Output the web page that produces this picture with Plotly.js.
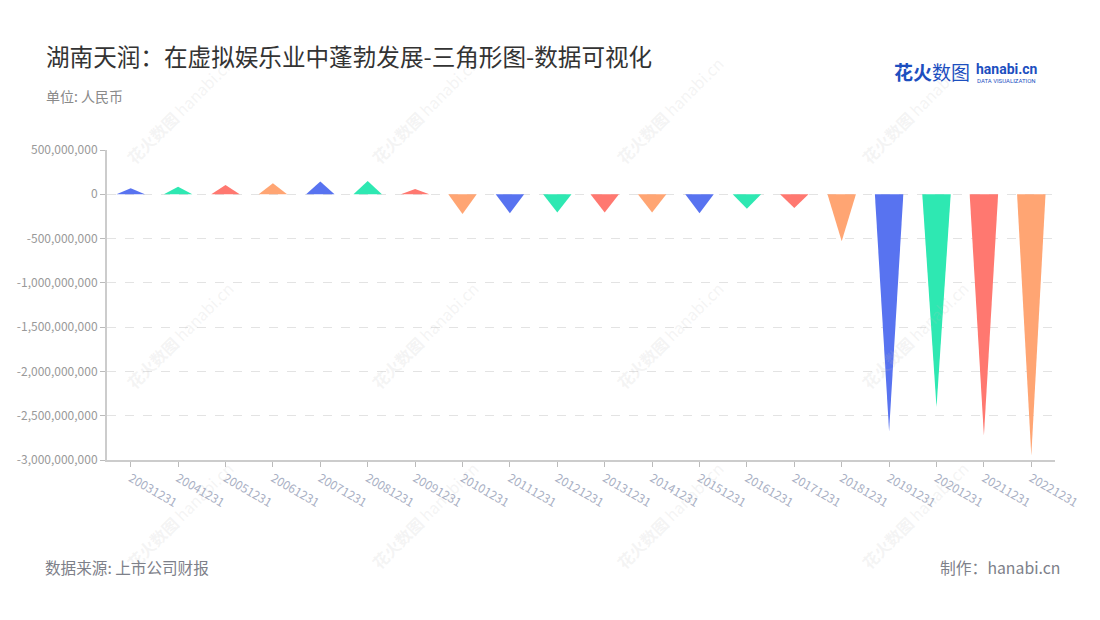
<!DOCTYPE html>
<html>
<head>
<meta charset="utf-8">
<script src="https://cdn.plot.ly/plotly-3.0.1.min.js"></script>
<style>html,body{margin:0;padding:0;background:#fff;}#chart{width:1100px;height:620px;}</style>
</head>
<body>
<div id="chart"></div>
<script>
const categories = ["20031231","20041231","20051231","20061231","20071231","20081231","20091231","20101231","20111231","20121231","20131231","20141231","20151231","20161231","20171231","20181231","20191231","20201231","20211231","20221231"];
const netProfit = [68e6, 86e6, 105e6, 124e6, 143e6, 150e6, 60e6, -222e6, -214e6, -207e6, -207e6, -207e6, -214e6, -162e6, -154e6, -530e6, -2675e6, -2404e6, -2725e6, -2951e6];
const palette = ["#5873F0", "#2EE8B2", "#FF7870", "#FFA573"];
const yTickVals = [500e6, 0, -500e6, -1000e6, -1500e6, -2000e6, -2500e6, -3000e6];

const font = "'Noto Sans CJK SC', 'Noto Sans', sans-serif";
const halfW = 0.3;
const traces = categories.map((c, i) => ({
  type: "scatter",
  mode: "lines",
  x: [i - halfW, i, i + halfW, i - halfW],
  y: [0, netProfit[i], 0, 0],
  fill: "toself",
  fillcolor: palette[i % 4],
  line: {width: 0, color: palette[i % 4]},
  hoverinfo: "skip",
  showlegend: false
}));

const L = 107, R = 1055, T = 150, B = 460;
const px = x => (x - L) / (R - L);
const py = y => (B - y) / (B - T);

const annotations = [];
// faint watermarks (drawn first, behind other texts)
const wmX = [180, 425, 670, 915];
const wmY = [110, 335, 515];
wmY.forEach(wy => wmX.forEach(wx => {
  annotations.push({text: "<b>花火数图</b> hanabi.cn", x: px(wx), y: py(wy), xanchor: "center", yanchor: "middle", textangle: -45, font: {size: 16, color: "rgba(190,190,190,0.17)"}});
}));
annotations.push(
  {text: "湖南天润：在虚拟娱乐业中蓬勃发展-三角形图-数据可视化", x: px(44), y: py(56), xanchor: "left", yanchor: "middle", font: {size: 23.6, color: "#333"}},
  {text: "单位: 人民币", x: px(44), y: py(96), xanchor: "left", yanchor: "middle", font: {size: 14, color: "#8a8a8a"}},
  {text: "数据来源: 上市公司财报", x: px(43), y: py(567), xanchor: "left", yanchor: "middle", font: {size: 15.6, color: "#7d8089"}},
  {text: "制作：hanabi.cn", x: px(1062), y: py(567), xanchor: "right", yanchor: "middle", font: {size: 15.8, color: "#7d8089"}},
  {text: "<b>花火</b>数图", x: px(892), y: py(72), xanchor: "left", yanchor: "middle", font: {size: 19, color: "#1d4fbf"}},
  {text: "<b>hanabi.cn</b>", x: px(974), y: py(69), xanchor: "left", yanchor: "middle", font: {size: 14, color: "#1d4fbf", family: "Roboto, sans-serif"}},
  {text: "DATA VISUALIZATION", x: px(975), y: py(81), xanchor: "left", yanchor: "middle", font: {size: 6, color: "#1d4fbf", family: "Roboto, sans-serif"}}
);
annotations.forEach(a => { a.xref = "paper"; a.yref = "paper"; a.showarrow = false; });

const layout = {
  width: 1100, height: 620,
  margin: {l: L, r: 1100 - R, t: T, b: 620 - B, pad: 0},
  paper_bgcolor: "#fff", plot_bgcolor: "#fff",
  font: {family: font, color: "#999"},
  showlegend: false,
  xaxis: {
    range: [-0.5, categories.length - 0.5],
    tickvals: categories.map((c, i) => i),
    ticktext: categories,
    tickangle: 30,
    tickfont: {size: 12, color: "#a9b0c4"},
    showgrid: false, zeroline: false,
    showline: true, linecolor: "#cccccc", linewidth: 2,
    ticks: "outside", ticklen: 5, tickcolor: "#bbb", tickwidth: 1,
    fixedrange: true
  },
  yaxis: {
    range: [-3000e6, 500e6],
    tickvals: yTickVals,
    ticktext: yTickVals.map(v => (v < 0 ? "-" : "") + Math.abs(v).toLocaleString("en-US")),
    tickfont: {size: 12, color: "#999"},
    showgrid: true, gridcolor: "#e3e3e3", griddash: "dash", gridwidth: 1,
    zeroline: false,
    showline: true, linecolor: "#cccccc", linewidth: 2,
    ticks: "outside", ticklen: 5, tickcolor: "#bbb",
    fixedrange: true
  },
  annotations: annotations
};

Plotly.newPlot("chart", traces, layout, {displayModeBar: false, staticPlot: true});
</script>
</body>
</html>
